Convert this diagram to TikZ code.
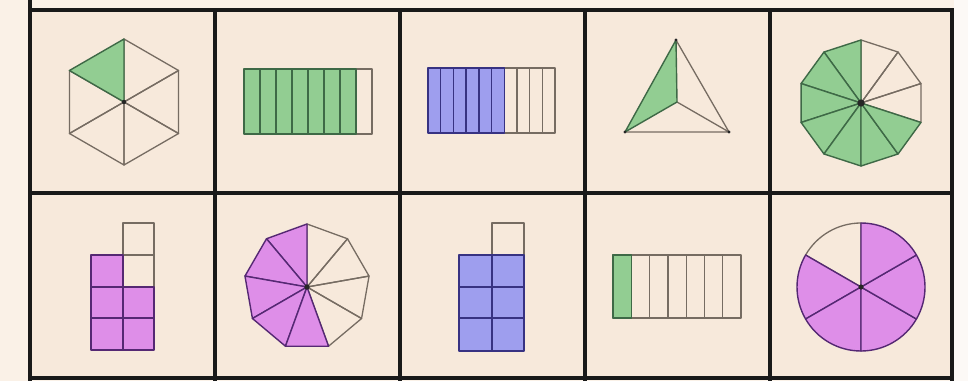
\documentclass[tikz,border=0pt]{standalone}
\definecolor{bgout}{RGB}{250,241,231}
\definecolor{bgright}{RGB}{252,249,246}
\definecolor{cellbg}{RGB}{247,233,219}
\definecolor{gfill}{RGB}{146,205,146}
\definecolor{gline}{RGB}{62,105,70}
\definecolor{bfill}{RGB}{158,158,238}
\definecolor{bline}{RGB}{55,50,130}
\definecolor{pfill}{RGB}{222,142,232}
\definecolor{pline}{RGB}{85,40,115}
\definecolor{wline}{RGB}{118,108,98}
\tikzset{
  gridline/.style={line width=4pt, black!90},
  plain/.style={draw=wline, line width=1.3pt},
  gshade/.style={fill=gfill, draw=gline, line width=1.4pt},
  bshade/.style={fill=bfill, draw=bline, line width=1.4pt},
  pshade/.style={fill=pfill, draw=pline, line width=1.4pt},
  hub/.style={fill=black!85}
}
\begin{document}
\begin{tikzpicture}[x=1pt,y=-1pt,line join=round]
\useasboundingbox (0,0) rectangle (968,381);
\fill[bgout] (0,0) rectangle (968,381);
\fill[bgright] (954,0) rectangle (968,381);
\fill[cellbg] (30,10) rectangle (952,378);

% ---------- row 1 ----------
% hexagon 1/6
\begin{scope}[shift={(124,102)},y=1pt]
  \foreach \k in {1,...,5} \draw[plain] (0,0) -- ({90+60*\k}:63) -- ({150+60*\k}:63) -- cycle;
  \draw[gshade] (0,0) -- (90:63) -- (150:63) -- cycle;
  \fill[hub] (0,0) circle (2.2);
\end{scope}
% strip 7/8
\fill[gfill] (244,69) rectangle (356,134);
\foreach \i in {1,...,6} \draw[gline, line width=1.4pt] ({244+16*\i},69) -- ({244+16*\i},134);
\draw[plain] (356,69) rectangle (372,134);
\draw[gline, line width=1.4pt] (244,69) rectangle (356,134);
% strip 6/10
\fill[bfill] (428,68) rectangle (504.2,133);
\draw[plain] (504.2,68) rectangle (555,133);
\foreach \i in {7,...,9} \draw[plain] ({428+12.7*\i},68) -- ({428+12.7*\i},133);
\foreach \i in {1,...,5} \draw[bline, line width=1.4pt] ({428+12.7*\i},68) -- ({428+12.7*\i},133);
\draw[bline, line width=1.4pt] (428,68) rectangle (504.2,133);
% triangle 1/3
\coordinate (tT) at (676,40);
\coordinate (tL) at (625,132);
\coordinate (tR) at (729,132);
\coordinate (tC) at (677,102);
\draw[plain] (tT) -- (tR) -- (tL) (tC) -- (tR);
\draw[gshade] (tT) -- (tC) -- (tL) -- cycle;
\fill[hub] (tT) circle (1.6) (tL) circle (1.6) (tR) circle (1.6);
% decagon 7/10
\begin{scope}[shift={(861,103)},y=1pt]
  \foreach \k in {7,8,9} \draw[plain] (0,0) -- ({90+36*\k}:63) -- ({126+36*\k}:63) -- cycle;
  \foreach \k in {0,...,6} \draw[gshade] (0,0) -- ({90+36*\k}:63) -- ({126+36*\k}:63) -- cycle;
  \fill[hub] (0,0) circle (3.6);
\end{scope}

% ---------- row 2 ----------
% stepped block 5/7
\draw[plain] (123,223) rectangle (154,287);
\draw[plain] (123,255) -- (154,255);
\draw[pshade] (91,255) rectangle (123,350);
\draw[pshade] (123,287) rectangle (154,350);
\draw[pline, line width=1.4pt] (91,287) -- (154,287) (91,318) -- (154,318);
% nonagon 5/9
\begin{scope}[shift={(307,287)},y=1pt]
  \foreach \k in {5,...,8} \draw[plain] (0,0) -- ({90+40*\k}:63) -- ({130+40*\k}:63) -- cycle;
  \foreach \k in {0,...,4} \draw[pshade] (0,0) -- ({90+40*\k}:63) -- ({130+40*\k}:63) -- cycle;
  \fill[hub] (0,0) circle (2.6);
\end{scope}
% block 6/7
\draw[plain] (492,223) rectangle (524,255);
\draw[bshade] (459,255) rectangle (524,351);
\draw[bline, line width=1.4pt] (492,255) -- (492,351) (459,287) -- (524,287) (459,318) -- (524,318);
% strip 1/7
\draw[plain] (613,255) rectangle (741,318);
\foreach \i in {2,...,6} \draw[plain] ({613+18.29*\i},255) -- ({613+18.29*\i},318);
\draw[gshade] (613,255) rectangle (631.3,318);
% circle 5/6
\begin{scope}[shift={(861,287)},y=1pt]
  \draw[plain] (0,0) -- (90:64) arc (90:150:64) -- cycle;
  \foreach \k in {1,...,5} \draw[pshade] (0,0) -- ({90+60*\k}:64) arc ({90+60*\k}:{150+60*\k}:64) -- cycle;
  \fill[hub] (0,0) circle (2.6);
\end{scope}

% ---------- grid ----------
\draw[gridline] (30,0) -- (30,381);
\foreach \x in {215,400,585,770,952} \draw[gridline] (\x,8) -- (\x,381);
\foreach \y in {10,193,378} \draw[gridline] (28,\y) -- (954,\y);
\end{tikzpicture}
\end{document}
